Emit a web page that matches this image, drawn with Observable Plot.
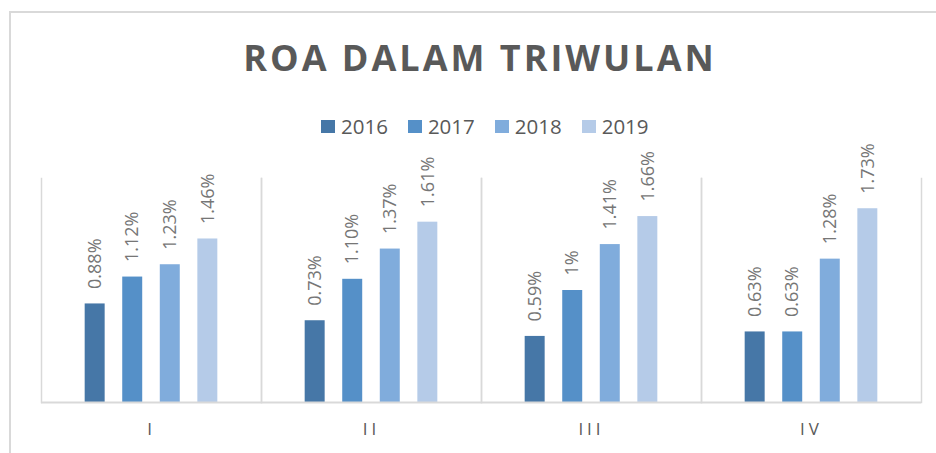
<!DOCTYPE html>
<html>
<head>
<meta charset="utf-8">
<script src="https://cdn.jsdelivr.net/npm/d3@7"></script>
<script src="https://cdn.jsdelivr.net/npm/@observablehq/plot@0.6"></script>
<style>
  html, body { margin: 0; padding: 0; background: #fff; }
  body { position: relative; width: 936px; height: 453px; overflow: hidden; font-family: "Open Sans", sans-serif; }
  #frame { position: absolute; left: 9px; top: 11px; width: 1000px; height: 500px; border: 2px solid #d9d9d9; box-sizing: border-box; }
  #title { position: absolute; left: 0; width: 960px; top: 40px; text-align: center; font-size: 36px; line-height: 36px; font-weight: 700; letter-spacing: 3px; color: #595959; }
  #legend { position: absolute; left: 321px; top: 116px; height: 20px; display: flex; align-items: center; font-size: 20.5px; line-height: 20px; color: #595959; }
  #legend .item { display: flex; align-items: center; margin-right: 20px; }
  #legend .sw { width: 14px; height: 13px; margin-right: 6px; }
  #chart { position: absolute; left: 0; top: 138px; }
  #chart svg { overflow: visible; }
  #chart [aria-label^="fx-axis"] text { letter-spacing: 4px; }
</style>
</head>
<body>
<div id="frame"></div>
<div id="title">ROA DALAM TRIWULAN</div>
<div id="legend"></div>
<div id="chart"></div>
<script>
const quarters = ["I", "II", "III", "IV"];
const years = ["2016", "2017", "2018", "2019"];
const colors = ["#4677a7", "#5590c8", "#80acdc", "#b5cbe8"];
const roa2016 = [0.88, 0.73, 0.59, 0.63];
const roa2017 = [1.12, 1.10, 1.00, 0.63];
const roa2018 = [1.23, 1.37, 1.41, 1.28];
const roa2019 = [1.46, 1.61, 1.66, 1.73];
const label2016 = ["0.88%", "0.73%", "0.59%", "0.63%"];
const label2017 = ["1.12%", "1.10%", "1%", "0.63%"];
const label2018 = ["1.23%", "1.37%", "1.41%", "1.28%"];
const label2019 = ["1.46%", "1.61%", "1.66%", "1.73%"];

const series = [roa2016, roa2017, roa2018, roa2019];
const labels = [label2016, label2017, label2018, label2019];
const rows = [];
quarters.forEach((q, qi) => {
  years.forEach((y, yi) => {
    rows.push({quarter: q, year: y, value: series[yi][qi], label: labels[yi][qi]});
  });
});

// legend
const legend = document.getElementById("legend");
years.forEach((y, i) => {
  const it = document.createElement("div");
  it.className = "item";
  const sw = document.createElement("span");
  sw.className = "sw";
  sw.style.background = colors[i];
  const tx = document.createElement("span");
  tx.textContent = y;
  it.appendChild(sw); it.appendChild(tx);
  legend.appendChild(it);
});

const chart = Plot.plot({
  width: 936,
  height: 315,
  marginTop: 40,
  marginBottom: 51,
  marginLeft: 40,
  marginRight: 15,
  style: {fontFamily: "Open Sans", background: "transparent", color: "#595959"},
  fx: {domain: quarters, padding: 0, axis: null},
  x: {domain: years, paddingInner: 0.468, paddingOuter: 1.163, round: false, axis: null},
  y: {domain: [0, 2], axis: null},
  color: {domain: years, range: colors},
  marks: [
    Plot.frame({anchor: "left", stroke: "#d9d9d9", strokeWidth: 1.5}),
    Plot.frame({anchor: "right", stroke: "#d9d9d9", strokeWidth: 1.5}),
    Plot.barY(rows, {fx: "quarter", x: "year", y: "value", fill: "year"}),
    Plot.ruleY([0], {stroke: "#d9d9d9", strokeWidth: 2}),
    Plot.text(rows, {fx: "quarter", x: "year", y: "value", text: "label", rotate: -90, textAnchor: "start", dy: -15, fill: "#767676", fontSize: 18}),
    Plot.axisFx({anchor: "bottom", tickSize: 0, tickPadding: 20, label: null, fontSize: 17, fill: "#595959"})
  ]
});
document.getElementById("chart").appendChild(chart);
</script>
</body>
</html>
